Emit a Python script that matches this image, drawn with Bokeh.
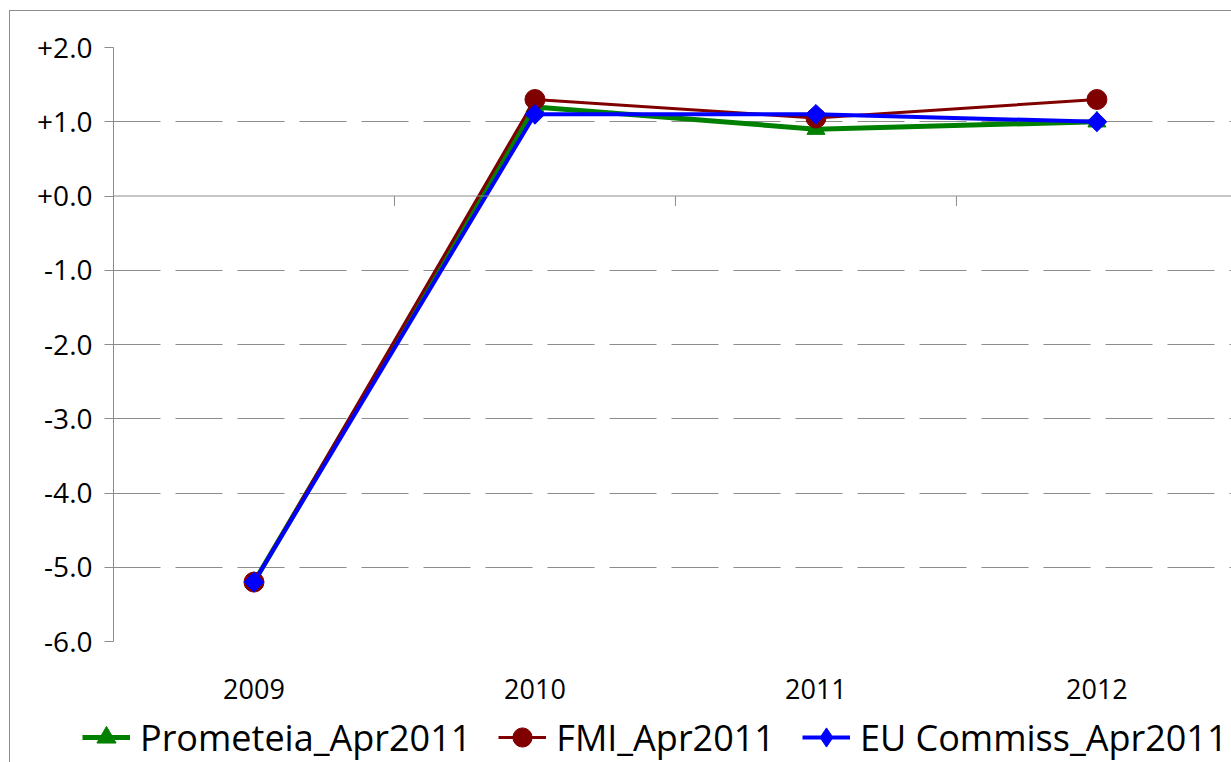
import math
from bokeh.plotting import figure
from bokeh.layouts import column
from bokeh.models import Range1d, FixedTicker, Span, Legend, LegendItem, InlineStyleSheet
from bokeh.embed import file_html
from bokeh.resources import INLINE

# ---- data ----
years = ["2009", "2010", "2011", "2012"]
prometeia = [-5.2, 1.2, 0.9, 1.0]
fmi = [-5.2, 1.3, 1.05, 1.3]
eu = [-5.2, 1.1, 1.1, 1.0]
series_names = ["Prometeia_Apr2011", "FMI_Apr2011", "EU Commiss_Apr2011"]
series_colors = ["#008000", "#800000", "#0000FF"]
y_ticks = [-6, -5, -4, -3, -2, -1, 0, 1, 2]
y_tick_labels = ["-6.0", "-5.0", "-4.0", "-3.0", "-2.0", "-1.0", "+0.0", "+1.0", "+2.0"]

x = [i + 0.5 for i in range(len(years))]
bounds = list(range(1, len(years)))
series_values = [prometeia, fmi, eu]

FONT = "Open Sans"
GRID = "#8c8c8c"

border_css = InlineStyleSheet(css="""
:host { position: relative; }
:host::after { content: ""; position: absolute; left: 9px; top: 10px;
  width: 1300px; height: 900px; border: 1px solid #8c8c8c;
  pointer-events: none; box-sizing: border-box; }
""")

# ---------------- main chart ----------------
chart = figure(width=1231, height=712, output_backend="svg", toolbar_location=None,
               x_range=Range1d(0, 3.979), y_range=Range1d(-6, 2),
               min_border_left=113, min_border_right=0, min_border_top=47,
               min_border_bottom=71)
chart.frame_align = False
chart.outline_line_color = None
chart.background_fill_color = "white"
chart.border_fill_color = "white"

# x axis (category labels only)
chart.xaxis.ticker = FixedTicker(ticks=x)
chart.xaxis.major_label_overrides = {xv: yr for xv, yr in zip(x, years)}
chart.xaxis.axis_line_color = None
chart.xaxis.major_tick_line_color = None
chart.xaxis.minor_tick_line_color = None
chart.xaxis.major_label_standoff = 31
chart.xaxis.major_label_text_font = FONT
chart.xaxis.major_label_text_font_size = "27px"
chart.xaxis.major_label_text_color = "black"
chart.xgrid.visible = False

# y axis
chart.yaxis.ticker = FixedTicker(ticks=y_ticks)
chart.yaxis.major_label_overrides = {t: l for t, l in zip(y_ticks, y_tick_labels)}
chart.yaxis.axis_line_color = GRID
chart.yaxis.major_tick_line_color = GRID
chart.yaxis.major_tick_out = 9
chart.yaxis.major_tick_in = 0
chart.yaxis.minor_tick_line_color = None
chart.yaxis.major_label_standoff = 12
chart.yaxis.major_label_text_font = FONT
chart.yaxis.major_label_text_font_size = "28px"
chart.yaxis.major_label_text_color = "black"

chart.ygrid.ticker = FixedTicker(ticks=[t for t in y_ticks if t != 0])
chart.ygrid.grid_line_color = GRID
chart.ygrid.grid_line_dash = "47 15"
chart.ygrid.grid_line_width = 1

# zero line (category axis crossing) with tick marks between categories
chart.add_layout(Span(location=0, dimension="width", line_color=GRID, line_width=1))
tick_len = 10 / 74.25
chart.segment(x0=bounds, y0=[0] * len(bounds), x1=bounds,
              y1=[-tick_len] * len(bounds), line_color=GRID, line_width=1)

# series
chart.line(x, prometeia, line_color=series_colors[0], line_width=5, line_join="round")
chart.scatter(x, prometeia, marker="triangle", size=18,
              fill_color=series_colors[0], line_color=series_colors[0])
chart.line(x, fmi, line_color=series_colors[1], line_width=3, line_join="round")
chart.scatter(x, fmi, marker="circle", size=20,
              fill_color=series_colors[1], line_color=series_colors[1])
chart.line(x, eu, line_color=series_colors[2], line_width=4, line_join="round")
chart.scatter(x, eu, marker="square", size=14, angle=math.pi / 4,
              fill_color=series_colors[2], line_color=series_colors[2])

# ---------------- legend strip ----------------
# the same series are drawn here outside the visible range; only their legend keys show
key = figure(width=1231, height=50, output_backend="svg", toolbar_location=None,
             x_axis_location=None, y_axis_location=None,
             x_range=Range1d(0, 4), y_range=Range1d(100, 101),
             min_border_left=0, min_border_right=0, min_border_top=0,
             min_border_bottom=0)
key.frame_align = False
key.outline_line_color = None
key.xgrid.visible = False
key.ygrid.visible = False
key.background_fill_color = "white"
key.border_fill_color = "white"

key_widths = [5, 3, 4]
key_markers = ["triangle", "circle", "diamond"]
items = []
for name, vals, col, lw, mk in zip(series_names, series_values, series_colors,
                                     key_widths, key_markers):
    rl = key.line(x, vals, line_color=col, line_width=lw)
    rs = key.scatter(x, vals, marker=mk, fill_color=col, line_color=col)
    items.append(LegendItem(label=name, renderers=[rl, rs]))

legend = Legend(items=items, orientation="horizontal", location=(82, 0),
                glyph_width=48, glyph_height=50, label_height=50,
                label_standoff=10, spacing=27, padding=0, margin=0,
                border_line_color=None, background_fill_alpha=0,
                label_text_font=FONT, label_text_font_size="36px",
                label_text_color="black")
key.add_layout(legend)

p = column(chart, key, spacing=0, stylesheets=[border_css])

open("out.html", "w").write(file_html(p, INLINE))
